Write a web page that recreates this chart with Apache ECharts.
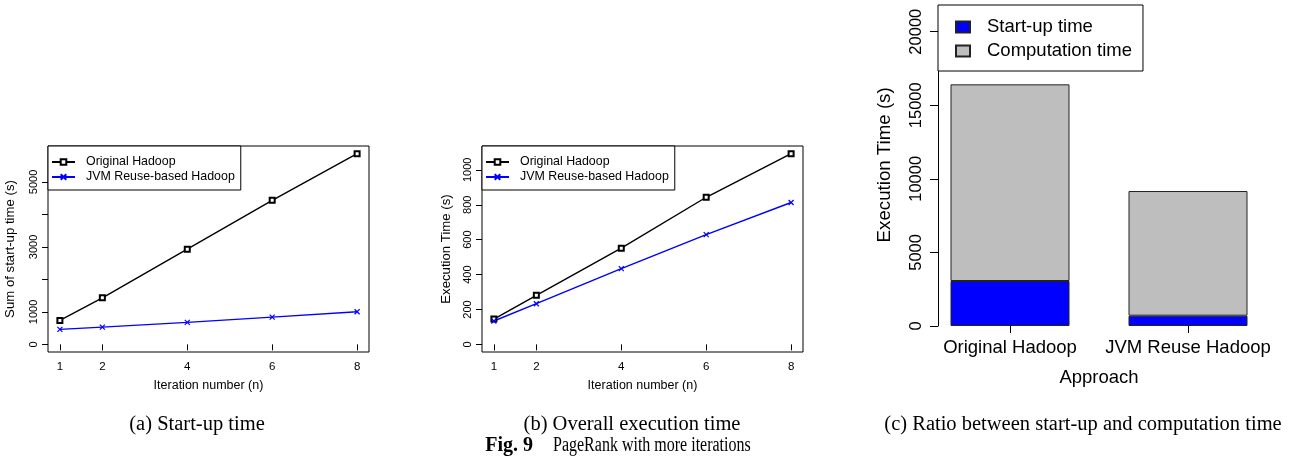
<!DOCTYPE html>
<html>
<head>
<meta charset="utf-8">
<script src="https://cdn.jsdelivr.net/npm/echarts@6/dist/echarts.min.js"></script>
<style>
html,body{margin:0;padding:0;background:#fff;}
#main{width:1297px;height:468px;}
</style>
</head>
<body>
<div id="main"></div>
<script>
// ---- data ----
const iterations = [1, 2, 4, 6, 8];
const startupOriginal = [738, 1433, 2930, 4437, 5873];
const startupJvm = [461, 532, 676, 840, 1003];
const execOriginal = [145, 281, 551, 843, 1093];
const execJvm = [134, 233, 434, 629, 813];
const approaches = ['Original Hadoop', 'JVM Reuse Hadoop'];
const startupTime = [3058, 700];
const computationTime = [13365, 8473];

// ---- tick values ----
const startupTicks = [0, 1000, 2000, 3000, 4000, 5000];
const startupTickLabels = [0, 1000, 3000, 5000];
const execTicks = [0, 200, 400, 600, 800, 1000];

const seriesNames = ['Original Hadoop', 'JVM Reuse-based Hadoop'];
const stackNames = ['Start-up time', 'Computation time'];

const SANS = 'Liberation Sans, Arial, Helvetica, sans-serif';
const SERIF = 'Liberation Serif, Times New Roman, serif';
const INK = '#000';
const plain = v => String(v);

function pairs(xs, ys) { return xs.map((x, i) => [x, ys[i]]); }

const crossPath = 'path://M0,0L10,10M10,0L0,10';

function lineXAxis(grid) {
  return {
    type: 'value', gridIndex: grid, min: 0.72, max: 8.28,
    axisLine: {show: false}, splitLine: {show: false},
    axisTick: {show: true, length: 6, customValues: iterations, lineStyle: {color: INK, width: 1}},
    axisLabel: {customValues: iterations, fontSize: 11.5, margin: 9, color: INK, fontFamily: SANS, formatter: plain},
    name: 'Iteration number (n)', nameLocation: 'middle', nameGap: 27,
    nameTextStyle: {fontSize: 12.5, color: INK, fontFamily: SANS}
  };
}
function lineYAxis(grid, min, max, ticks, labels, name, gap, nameSize) {
  return {
    type: 'value', gridIndex: grid, min: min, max: max,
    axisLine: {show: false}, splitLine: {show: false},
    axisTick: {show: true, length: 6, customValues: ticks, lineStyle: {color: INK, width: 1}},
    axisLabel: {customValues: labels, rotate: 90, fontSize: 11, margin: 9, color: INK, fontFamily: SANS, formatter: plain},
    name: name, nameLocation: 'middle', nameGap: gap,
    nameTextStyle: {fontSize: nameSize, color: INK, fontFamily: SANS}
  };
}
function lineSeries(name, xi, data, color, symbol, size) {
  return {
    type: 'line', name: name, xAxisIndex: xi, yAxisIndex: xi,
    data: data, symbol: symbol, symbolSize: size,
    lineStyle: {color: color, width: 1.4},
    itemStyle: {color: color, borderColor: color, borderWidth: 1.2},
    emphasis: {disabled: true}, animation: false
  };
}
function lineLegend(left) {
  return {
    data: seriesNames, orient: 'vertical', left: left, top: 146,
    padding: [9, 6, 6, 3], itemWidth: 23, itemHeight: 7, itemGap: 1,
    borderColor: INK, borderWidth: 1, backgroundColor: '#fff',
    textStyle: {fontSize: 12.4, color: INK, fontFamily: SANS, lineHeight: 14, padding: [0, 0, 0, 6]},
    selectedMode: false
  };
}

const option = {
  animation: false,
  backgroundColor: '#fff',
  grid: [
    {left: 48, top: 146, width: 321, height: 206, show: true, borderColor: INK, borderWidth: 1, backgroundColor: 'transparent'},
    {left: 482, top: 146, width: 321, height: 206, show: true, borderColor: INK, borderWidth: 1, backgroundColor: 'transparent'},
    {left: 921, top: 31.7, width: 356, height: 294.3}
  ],
  xAxis: [
    lineXAxis(0),
    lineXAxis(1),
    {
      type: 'category', gridIndex: 2, data: approaches,
      axisLine: {show: false},
      axisTick: {show: true, alignWithLabel: true, interval: 0, length: 7, lineStyle: {color: INK}},
      axisLabel: {interval: 0, hideOverlap: false, fontSize: 18.5, margin: 12, color: INK, fontFamily: SANS},
      name: 'Approach', nameLocation: 'middle', nameGap: 42,
      nameTextStyle: {fontSize: 18.5, color: INK, fontFamily: SANS}
    }
  ],
  yAxis: [
    lineYAxis(0, -235, 6108, startupTicks, startupTickLabels, 'Sum of start-up time (s)', 31, 13.2),
    lineYAxis(1, -43.7, 1136.7, execTicks, execTicks, 'Execution Time (s)', 29, 13.2),
    {
      type: 'value', gridIndex: 2, min: 0, max: 20000, interval: 5000, offset: -17,
      axisLine: {show: true, lineStyle: {color: INK, width: 1}},
      splitLine: {show: false},
      axisTick: {show: true, length: 8, lineStyle: {color: INK}},
      axisLabel: {rotate: 90, fontSize: 16.5, margin: 13, color: INK, fontFamily: SANS, formatter: plain},
      name: 'Execution Time (s)', nameLocation: 'middle', nameGap: 44,
      nameTextStyle: {fontSize: 18.7, color: INK, fontFamily: SANS, padding: [0, 0, 0, 28]}
    }
  ],
  legend: [
    lineLegend(48),
    lineLegend(482),
    {
      data: stackNames, orient: 'vertical', left: 938, top: 5,
      padding: [11, 11, 9, 17], itemWidth: 14, itemHeight: 11, itemGap: 2,
      icon: 'rect',
      borderColor: INK, borderWidth: 1, backgroundColor: '#fff',
      textStyle: {fontSize: 18.5, color: INK, fontFamily: SANS, lineHeight: 22, padding: [0, 0, 0, 12]},
      selectedMode: false
    }
  ],
  series: [
    lineSeries(seriesNames[0], 0, pairs(iterations, startupOriginal), '#000', 'emptyRect', 5),
    lineSeries(seriesNames[1], 0, pairs(iterations, startupJvm), '#0000ff', crossPath, 5),
    lineSeries(seriesNames[0], 1, pairs(iterations, execOriginal), '#000', 'emptyRect', 5),
    lineSeries(seriesNames[1], 1, pairs(iterations, execJvm), '#0000ff', crossPath, 5),
    {
      type: 'bar', name: stackNames[0], xAxisIndex: 2, yAxisIndex: 2, stack: 'total',
      data: startupTime, barWidth: 119,
      itemStyle: {color: '#0000ff', borderColor: '#222', borderWidth: 1},
      emphasis: {disabled: true}
    },
    {
      type: 'bar', name: stackNames[1], xAxisIndex: 2, yAxisIndex: 2, stack: 'total',
      data: computationTime, barWidth: 119,
      itemStyle: {color: '#bebebe', borderColor: '#222', borderWidth: 1},
      emphasis: {disabled: true}
    }
  ],
  graphic: [
    {type: 'text', x: 197, y: 425, style: {text: '(a) Start-up time', fontFamily: SERIF, fontSize: 20.5, fill: INK, align: 'center', verticalAlign: 'middle'}},
    {type: 'text', x: 632, y: 425, style: {text: '(b) Overall execution time', fontFamily: SERIF, fontSize: 20.5, fill: INK, align: 'center', verticalAlign: 'middle'}},
    {type: 'text', x: 1083, y: 425, style: {text: '(c) Ratio between start-up and computation time', fontFamily: SERIF, fontSize: 20.5, fill: INK, align: 'center', verticalAlign: 'middle'}},
    {type: 'text', x: 533, y: 446, style: {text: 'Fig. 9', fontFamily: SERIF, fontSize: 20, fontWeight: 'bold', fill: INK, align: 'right', verticalAlign: 'middle'}},
    {type: 'text', x: 553, y: 446, scaleX: 0.8, style: {text: 'PageRank with more iterations', fontFamily: SERIF, fontSize: 20, fill: INK, align: 'left', verticalAlign: 'middle'}}
  ]
};

const chart = echarts.init(document.getElementById('main'), null, {renderer: 'canvas'});
chart.setOption(option);
</script>
</body>
</html>
